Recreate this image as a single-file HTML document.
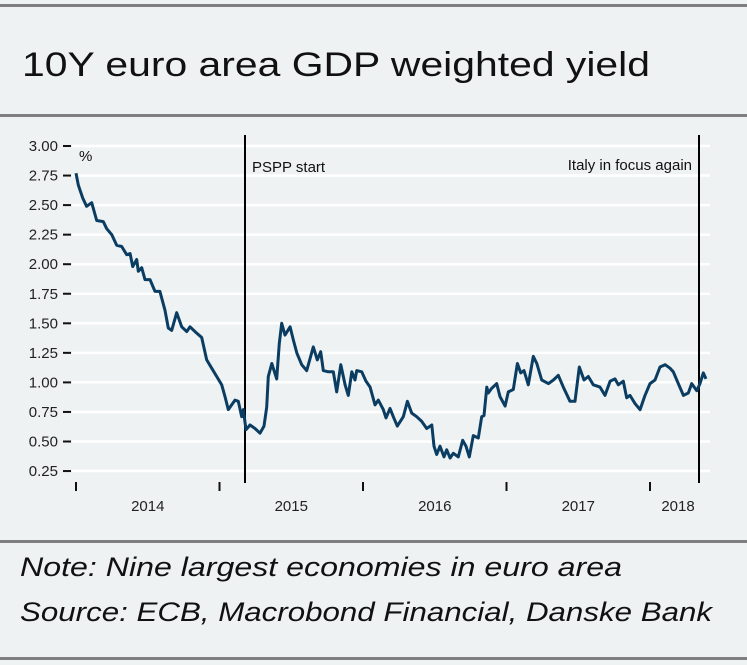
<!DOCTYPE html>
<html><head><meta charset="utf-8"><style>
html,body{margin:0;padding:0;background:#eef2f3;}
svg{display:block;font-family:"Liberation Sans",sans-serif;}
</style></head><body>
<svg id="chart" width="747" height="665" viewBox="0 0 747 665">
<rect x="0" y="0" width="747" height="665" fill="#eef2f3"/>
<rect x="0" y="4" width="747" height="3" fill="#7f7f7f"/>
<text x="22" y="76" font-size="34" fill="#111" textLength="628" lengthAdjust="spacingAndGlyphs">10Y euro area GDP weighted yield</text>
<rect x="0" y="114" width="747" height="3" fill="#7f7f7f"/>
<g id="grid"></g>
<g id="yaxis"></g>
<g id="xaxis"></g>
<text x="79" y="161" font-size="15" fill="#111">%</text>
<line x1="245" y1="135" x2="245" y2="483" stroke="#000" stroke-width="2"/>
<text x="252" y="172" font-size="15" fill="#111">PSPP start</text>
<line x1="699" y1="135" x2="699" y2="483" stroke="#000" stroke-width="2"/>
<text x="692" y="170" font-size="15" fill="#111" text-anchor="end">Italy in focus again</text>
<path id="series" fill="none" stroke="#0b3d62" stroke-width="3" stroke-linejoin="round"/>
<rect x="0" y="540" width="747" height="3" fill="#7f7f7f"/>
<text x="20" y="576" font-size="27" font-style="italic" fill="#111" textLength="602" lengthAdjust="spacingAndGlyphs">Note: Nine largest economies in euro area</text>
<text x="20" y="621" font-size="27" font-style="italic" fill="#111" textLength="692" lengthAdjust="spacingAndGlyphs">Source: ECB, Macrobond Financial, Danske Bank</text>
<rect x="0" y="657" width="747" height="3" fill="#7f7f7f"/>
</svg>
<script>
const yTicks = ["3.00","2.75","2.50","2.25","2.00","1.75","1.50","1.25","1.00","0.75","0.50","0.25"];
const yearLabels = ["2014","2015","2016","2017","2018"];
const months = [0,0.19,0.56,0.89,1.31,1.73,2.28,2.57,2.99,3.40,3.82,4.24,4.52,4.74,5.08,5.21,5.49,5.77,6.19,6.61,7.02,7.44,7.72,8.00,8.42,8.84,9.26,9.53,9.95,10.51,10.93,11.35,11.77,12.18,12.46,12.74,13.30,13.57,13.86,13.99,14.22,14.55,14.97,15.39,15.72,15.95,16.08,16.37,16.78,17.00,17.20,17.48,17.90,18.17,18.46,18.87,19.29,19.84,20.18,20.46,20.68,21.10,21.52,21.80,22.14,22.50,22.77,23.06,23.33,23.47,23.89,24.25,24.59,25.00,25.28,25.70,25.92,26.26,26.53,26.87,27.37,27.71,28.07,28.49,28.91,29.33,29.75,29.94,30.16,30.44,30.77,31.00,31.28,31.55,31.97,32.34,32.61,32.89,33.22,33.64,33.93,34.12,34.35,34.48,34.76,35.18,35.46,35.88,36.15,36.57,36.91,37.19,37.46,37.82,38.24,38.53,38.94,39.50,39.92,40.33,40.75,41.31,41.73,42.09,42.48,42.84,43.26,43.82,44.24,44.66,45.07,45.35,45.77,46.05,46.33,46.75,47.17,47.58,48.00,48.42,48.84,49.26,49.67,49.95,50.37,50.79,51.20,51.49,51.91,52.18,52.46,52.68];
const yields = [2.77,2.67,2.56,2.49,2.52,2.37,2.36,2.30,2.25,2.16,2.15,2.08,2.09,1.98,2.04,1.94,1.97,1.87,1.87,1.77,1.77,1.61,1.46,1.44,1.59,1.47,1.43,1.47,1.43,1.38,1.19,1.12,1.05,0.98,0.88,0.77,0.85,0.84,0.71,0.77,0.60,0.64,0.61,0.57,0.63,0.79,1.05,1.16,1.03,1.33,1.50,1.40,1.47,1.36,1.25,1.15,1.10,1.30,1.19,1.26,1.10,1.09,1.09,0.92,1.15,0.98,0.89,1.09,1.02,1.10,1.09,1.01,0.96,0.81,0.85,0.77,0.70,0.78,0.71,0.63,0.71,0.84,0.74,0.71,0.67,0.61,0.64,0.46,0.39,0.46,0.37,0.43,0.36,0.40,0.37,0.51,0.46,0.37,0.55,0.53,0.71,0.72,0.96,0.91,0.95,0.99,0.88,0.80,0.92,0.94,1.16,1.08,1.10,0.98,1.22,1.16,1.02,0.99,1.02,1.06,0.96,0.84,0.84,1.13,1.02,1.05,0.98,0.96,0.89,1.01,1.03,0.98,1.01,0.87,0.89,0.82,0.77,0.89,0.99,1.02,1.13,1.15,1.12,1.09,0.99,0.89,0.91,0.99,0.93,0.99,1.08,1.03];
const NS="http://www.w3.org/2000/svg";
const x0=76, pxPerMonth=143.5/12;
function xScale(m){return x0+m*pxPerMonth;}
function yScale(v){return 146+(3-v)*118.2;}
function mk(tag,attrs,parent){const e=document.createElementNS(NS,tag);for(const k in attrs)e.setAttribute(k,attrs[k]);parent.appendChild(e);return e;}
const grid=document.getElementById('grid'), yaxis=document.getElementById('yaxis'), xaxis=document.getElementById('xaxis');
yTicks.forEach(t=>{
  const y=yScale(parseFloat(t));
  const gl=mk('line',{x1:72,x2:710,y1:y,y2:y,stroke:'#ffffff','stroke-width':2.5},grid);
  
  
  const tk=mk('line',{x1:63,x2:71,y1:y,y2:y,stroke:'#111','stroke-width':2},yaxis);
  
  
  const lb=mk('text',{x:58,y:y+5,'font-size':15,fill:'#222','text-anchor':'end'},yaxis);
  lb.textContent=t;
  
  
});
for(let i=0;i<=yearLabels.length;i++){
  const x=xScale(i*12);
  const tk=mk('line',{x1:x,x2:x,y1:482,y2:491,stroke:'#111','stroke-width':2},xaxis);
  
  
}
yearLabels.forEach((y,i)=>{
  const cx = i<4 ? xScale(i*12+6) : 678;
  const lb=mk('text',{x:cx,y:511,'font-size':15,fill:'#222','text-anchor':'middle'},xaxis);
  lb.textContent=y;
  
  
});
let d='';
months.forEach((m,i)=>{d+=(i?'L':'M')+xScale(m).toFixed(1)+','+yScale(yields[i]).toFixed(1);});
document.getElementById('series').setAttribute('d',d);
</script>
</body></html>
